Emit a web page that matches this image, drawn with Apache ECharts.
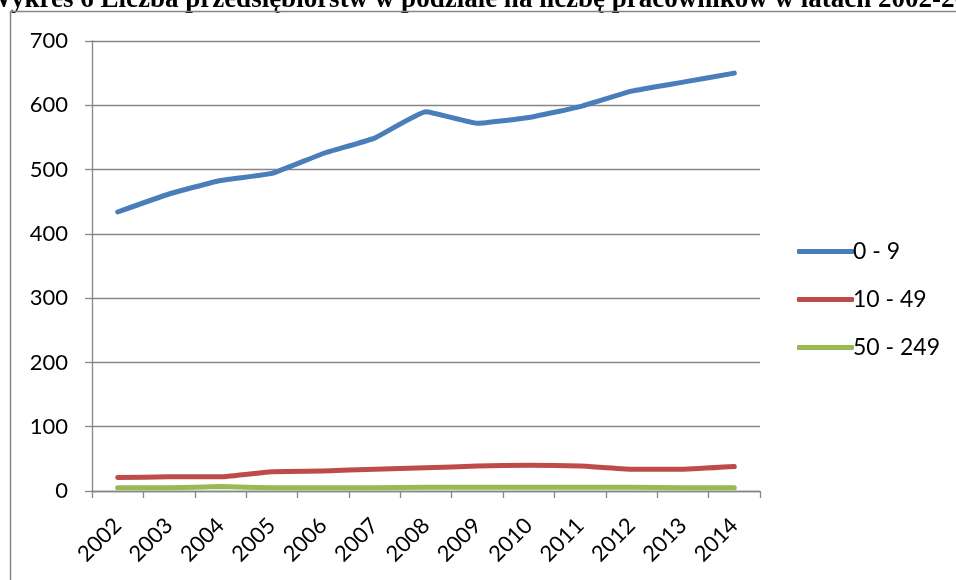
<!DOCTYPE html>
<html>
<head>
<meta charset="utf-8">
<script src="https://cdn.jsdelivr.net/npm/echarts@6/dist/echarts.min.js"></script>
<style>
html,body{margin:0;padding:0;background:#fff;}
#chart{width:956px;height:580px;}
</style>
</head>
<body>
<div id="chart"></div>
<script>
var titleText = 'Wykres 6 Liczba przedsiębiorstw w podziale na liczbę pracowników w latach 2002-2014';
var years = ['2002','2003','2004','2005','2006','2007','2008','2009','2010','2011','2012','2013','2014'];
var seriesNames = ['0 - 9', '10 - 49', '50 - 249'];
var micro = [434, 462, 483, 494, 525, 549, 590, 572, 581, 598, 622, 636, 650];
var small = [21, 22, 22, 30, 31, 34, 36, 39, 40, 39, 34, 34, 38];
var medium = [5, 5, 7, 5, 5, 5, 6, 6, 6, 6, 6, 5, 5];
var yTicks = [0, 100, 200, 300, 400, 500, 600, 700];

var colors = ['#4A7EBB', '#BE4B48', '#98B954'];
var values = [micro, small, medium];
var chart = echarts.init(document.getElementById('chart'), null, {renderer: 'canvas'});
var gray = '#868686';
var font = 'Lato, "Open Sans", sans-serif';

chart.setOption({
  animation: false,
  backgroundColor: '#fff',
  graphic: [
    {type: 'rect', shape: {x: 10.5, y: 11.5, width: 1000, height: 1000},
     style: {fill: 'none', stroke: gray, lineWidth: 1.5}, z: 20},
    {type: 'text', x: 490, y: 14, z: 10,
     style: {text: titleText, align: 'center', verticalAlign: 'bottom',
             font: 'bold 27px "Liberation Serif", "Times New Roman", serif', fill: '#000'}}
  ],
  legend: {
    orient: 'vertical',
    left: 792,
    top: 235,
    itemWidth: 57,
    itemHeight: 5,
    itemGap: 25,
    icon: 'roundRect',
    textStyle: {fontFamily: font, fontSize: 23, color: '#000', padding: [0,0,0,-6]},
    data: seriesNames
  },
  grid: {left: 92, right: 196, top: 41, bottom: 89, containLabel: false},
  xAxis: {
    type: 'category',
    data: years,
    boundaryGap: true,
    axisLine: {lineStyle: {color: gray, width: 1.3}},
    axisTick: {show: true, length: 7, lineStyle: {color: gray, width: 1.3}},
    axisLabel: {rotate: 45, margin: 31, fontFamily: font, fontSize: 22, color: '#000'}
  },
  yAxis: {
    type: 'value',
    min: yTicks[0],
    max: yTicks[yTicks.length - 1],
    interval: 100,
    axisLine: {show: true, lineStyle: {color: gray, width: 1.3}},
    axisTick: {show: true, length: 7, lineStyle: {color: gray, width: 1.3}},
    splitLine: {show: true, lineStyle: {color: gray, width: 1.3}},
    axisLabel: {margin: 24, fontFamily: font, fontSize: 22, color: '#000'}
  },
  series: seriesNames.map(function (n, i) {
    return {
      name: n,
      type: 'line',
      data: values[i],
      smooth: 0.12,
      symbol: 'none',
      lineStyle: {color: colors[i], width: 5, cap: 'round', join: 'round'},
      itemStyle: {color: colors[i]}
    };
  })
});
</script>
</body>
</html>
